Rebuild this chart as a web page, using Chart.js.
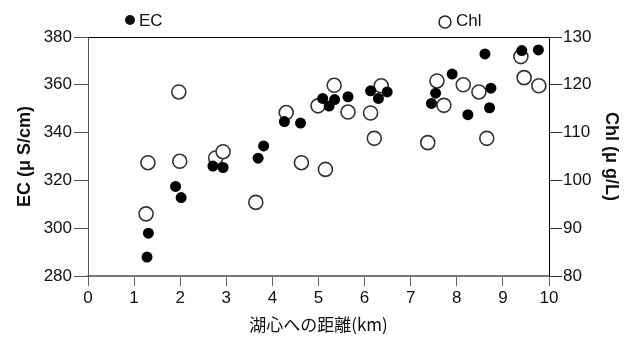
<!DOCTYPE html>
<html lang="ja">
<head>
    <meta charset="UTF-8">
    <title>EC / Chl</title>
    <style>
        html, body { margin: 0; padding: 0; background: #fff; }
        #chart { display: block; }
    </style>
</head>
<body>
    <canvas id="chart" width="634" height="338"></canvas>

    <script src="https://cdn.jsdelivr.net/npm/chart.js"></script>
    <script>
        // distance from lake centre (km) and EC (uS/cm)
        const distEC = [1.28, 1.31, 1.90, 2.02, 2.71, 2.93, 3.69, 3.81, 4.26, 4.61, 5.09, 5.23, 5.35, 5.64,
                        6.13, 6.30, 6.49, 7.45, 7.54, 7.90, 8.24, 8.61, 8.71, 8.74, 9.41, 9.77];
        const ecValues = [287.9, 297.9, 317.5, 312.8, 326.0, 325.4, 329.3, 334.4, 344.6, 344.0, 354.3, 351.1, 353.8, 355.0,
                          357.5, 354.3, 357.0, 352.2, 356.5, 364.5, 347.5, 372.9, 350.4, 358.6, 374.3, 374.6];

        // distance (km) and Chl (ug/L)
        const distChl = [1.26, 1.30, 1.97, 1.99, 2.77, 2.93, 3.64, 4.30, 4.63, 4.99, 5.15, 5.34, 5.64,
                         6.13, 6.21, 6.36, 7.37, 7.57, 7.72, 8.14, 8.48, 8.65, 9.39, 9.46, 9.78];
        const chlValues = [93.0, 103.7, 118.5, 104.0, 104.7, 106.0, 95.4, 114.2, 103.7, 115.6, 102.3, 119.9, 114.3,
                           114.1, 108.8, 119.8, 107.9, 120.8, 115.7, 120.0, 118.5, 108.8, 125.9, 121.5, 119.8];

        const xTicks = [0, 1, 2, 3, 4, 5, 6, 7, 8, 9, 10];
        const ecTicks = [280, 300, 320, 340, 360, 380];
        const chlTicks = [80, 90, 100, 110, 120, 130];

        const toPoints = (xs, ys) => xs.map((x, i) => ({ x: x, y: ys[i] }));

        const baseFont = 'Arial, "Liberation Sans", sans-serif';

        // top frame line + the two legend entries
        const framePlugin = {
            id: 'frame',
            afterDraw(chart) {
                const ctx = chart.ctx;
                const a = chart.chartArea;
                ctx.save();
                ctx.strokeStyle = '#000';
                ctx.lineWidth = 1;
                ctx.beginPath();
                ctx.moveTo(a.left, a.top + 0.5);
                ctx.lineTo(a.right, a.top + 0.5);
                ctx.stroke();

                ctx.font = '17px ' + baseFont;
                ctx.textBaseline = 'middle';
                ctx.fillStyle = '#111';

                ctx.beginPath();
                ctx.arc(130, 20, 5, 0, Math.PI * 2);
                ctx.fill();
                ctx.fillText('EC', 139, 21);

                ctx.beginPath();
                ctx.lineWidth = 1.5;
                ctx.strokeStyle = '#222';
                ctx.arc(445, 22, 6, 0, Math.PI * 2);
                ctx.stroke();
                ctx.fillText('Chl', 456, 21);
                ctx.restore();
            }
        };

        new Chart(document.getElementById('chart'), {
            type: 'scatter',
            data: {
                datasets: [{
                    label: 'EC',
                    data: toPoints(distEC, ecValues),
                    yAxisID: 'y',
                    pointRadius: 5.5,
                    pointBackgroundColor: '#000',
                    pointBorderColor: '#000',
                    pointBorderWidth: 0
                }, {
                    label: 'Chl',
                    data: toPoints(distChl, chlValues),
                    yAxisID: 'y2',
                    pointRadius: 7,
                    pointBackgroundColor: '#fff',
                    pointBorderColor: '#333',
                    pointBorderWidth: 1.6
                }]
            },
            options: {
                responsive: false,
                animation: false,
                devicePixelRatio: 1,
                layout: { padding: { top: 37, left: 0, right: 0, bottom: 0 } },
                plugins: {
                    legend: { display: false },
                    tooltip: { enabled: false }
                },
                scales: {
                    x: {
                        type: 'linear',
                        min: 0,
                        max: 10,
                        afterFit: s => { s.height = 62; },
                        afterBuildTicks: s => { s.ticks = xTicks.map(v => ({ value: v })); },
                        ticks: { color: '#111', font: { family: baseFont, size: 17 }, padding: 2 },
                        grid: { drawOnChartArea: false, tickLength: 10, color: '#666' },
                        border: { color: '#777', width: 2 },
                        title: {
                            display: true,
                            text: '湖心への距離(km)',
                            color: '#111',
                            font: { family: '"Noto Sans CJK JP", sans-serif', size: 17 },
                            padding: { top: 2, bottom: 3 }
                        }
                    },
                    y: {
                        position: 'left',
                        min: 280,
                        max: 380,
                        afterFit: s => { s.width = 88; },
                        afterBuildTicks: s => { s.ticks = ecTicks.map(v => ({ value: v })); },
                        ticks: { color: '#111', font: { family: baseFont, size: 17 }, padding: 2 },
                        grid: { drawOnChartArea: false, tickLength: 14, color: '#555' },
                        border: { color: '#555', width: 1 },
                        title: {
                            display: true,
                            text: 'EC (μ S/cm)',
                            color: '#111',
                            font: { family: baseFont, size: 18, weight: 'bold' },
                            padding: { top: 14, bottom: 4 }
                        }
                    },
                    y2: {
                        position: 'right',
                        min: 80,
                        max: 130,
                        afterFit: s => { s.width = 85; },
                        afterBuildTicks: s => { s.ticks = chlTicks.map(v => ({ value: v })); },
                        ticks: { color: '#111', font: { family: baseFont, size: 17 }, padding: 1 },
                        grid: { drawOnChartArea: false, tickLength: 13, color: '#333' },
                        border: { color: '#000', width: 1 },
                        title: {
                            display: true,
                            text: 'Chl (μ g/L)',
                            color: '#111',
                            font: { family: baseFont, size: 18, weight: 'bold' },
                            padding: { top: 12, bottom: 4 }
                        }
                    }
                }
            },
            plugins: [framePlugin]
        });
    </script>
</body>
</html>
